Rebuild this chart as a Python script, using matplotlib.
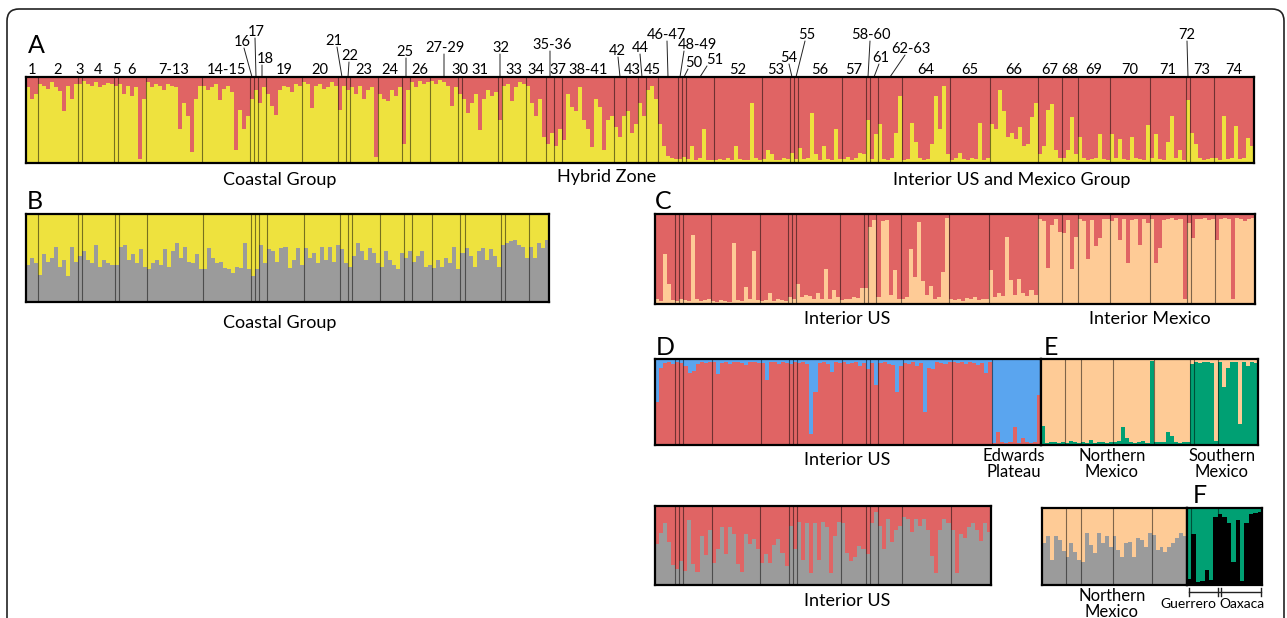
import numpy as np
import matplotlib
matplotlib.use('Agg')
import matplotlib.pyplot as plt
from matplotlib.patches import FancyBboxPatch
from matplotlib.lines import Line2D
from matplotlib.transforms import IdentityTransform

plt.rcParams['font.family'] = ['Lato', 'DejaVu Sans']

RED = '#e06464'
YELLOW = '#eee23e'
GREY = '#9b9b9b'
PEACH = '#fecb96'
BLUE = '#5aa5ef'
GREEN = '#00a073'
BLACK = '#000000'

# populations (in sampling order) and number of individuals in each
pops = ['1', '2', '3', '4', '5', '6', '7-13', '14-15', '16', '17', '18', '19', '20',
        '21', '22', '23', '24', '25', '26', '27-29', '30', '31', '32', '33', '34',
        '35-36', '37', '38-41', '42', '43', '44', '45', '46-47', '48-49', '50', '51',
        '52', '53', '54', '55', '56', '57', '58-60', '61', '62-63', '64', '65', '66',
        '67', '68', '69', '70', '71', '72', '73', '74']
sizes = [3, 10, 1, 8, 1, 7, 14, 12, 1, 1, 2, 9, 9,
         2, 1, 7, 6, 2, 5, 7, 1, 9, 1, 6, 5,
         2, 2, 13, 3, 3, 2, 3, 5, 1, 1, 7,
         12, 7, 1, 1, 11, 6, 1, 2, 6, 12, 10, 12,
         6, 4, 8, 10, 9, 1, 6, 10]

# A: all samples, % red cluster (rest yellow)
a_red = [12, 25, 20,
         8, 10, 14, 6, 12, 16, 40, 10, 26, 8,
         8,
         5, 8, 10, 6, 12, 9, 7, 8,
         10,
         8, 20, 10, 22, 12, 95, 25,
         6, 12, 8, 10, 15, 8, 10, 12, 60, 30, 45, 87, 25, 10,
         10, 15, 12, 8, 27, 14, 10, 18, 85, 38, 60, 45,
         25, 15, 30, 12,
         20, 34, 44, 15, 10, 12, 18, 8, 10,
         6, 8, 36, 10, 8, 14, 12, 6, 10,
         38, 10, 15,
         12, 20, 10, 25, 15, 12, 93,
         20, 25, 28, 15, 22, 12,
         78, 15,
         6, 12, 5, 8, 6,
         5, 8, 4, 6, 10, 34, 12,
         20,
         25, 42, 30, 20, 62, 25, 15, 22, 18,
         50,
         10, 8, 28, 12, 6, 8,
         10, 30, 45, 25, 70,
         78, 65, 80, 60,
         73, 20, 35, 40, 12, 50, 60, 81, 25, 35, 85, 50, 45,
         58, 70, 45,
         40, 65, 55,
         30, 45,
         15, 10, 25,
         55, 80, 92, 94, 95,
         95, 93,
         95, 80, 96, 94, 60, 96, 97,
         96, 95, 97, 94, 96, 80, 95, 96, 97, 30, 94, 96,
         95, 85, 90, 96, 97, 94, 95,
         88, 95,
         82, 95, 94, 42, 90, 96, 80, 95, 96, 60, 95,
         95, 93, 96, 94, 88, 90,
         50,
         95, 66,
         55, 95, 96, 94, 65, 22,
         96, 95, 54, 75, 94, 96, 95, 78, 22, 60, 10, 90,
         96, 94, 88, 95, 96, 94, 95, 53, 96, 94,
         55, 60, 15, 40, 70, 65, 72, 58, 80, 78, 46, 30,
         90, 80, 38, 31, 85, 94,
         94, 85, 46, 90,
         70, 94, 96, 95, 94, 66, 95, 96,
         66, 94, 72, 95, 96, 70, 94, 95, 96, 56,
         94, 66, 95, 96, 75, 45, 94, 85, 96,
         27,
         65, 78, 94, 96, 95, 94,
         94, 96, 45, 95, 94, 57, 95, 94, 71, 80]

# B: coastal group (pops 1-34), % grey cluster (rest yellow)
b_grey = [42, 50, 44,
          31, 55, 45, 50, 62, 40, 48, 30, 62, 45,
          52,
          58, 48, 44, 65, 40, 48, 44, 42,
          42,
          63, 65, 48, 54, 44, 60, 40,
          37, 44, 48, 42, 60, 40, 58, 67, 50, 63, 46, 44, 54, 37,
          37, 61, 50, 44, 46, 39, 37, 33, 40, 39, 67, 37,
          29, 37, 65, 44,
          60, 58, 46, 61, 63, 39, 48, 61, 42,
          61, 50, 56, 44, 63, 48, 63, 46, 65,
          60, 44, 40,
          52, 67, 58, 48, 61, 56, 44,
          40, 58, 48, 42, 37, 56,
          50, 58,
          46, 52, 58, 40, 42,
          39, 48, 40, 50, 44, 63, 37,
          56,
          61, 52, 40, 58, 61, 48, 60, 52, 40,
          65,
          67, 69, 71, 65, 63, 50,
          63, 50, 67, 61, 71]

# C: interior US and Mexico group (pops 46-74), % peach cluster (rest red)
c_peach = [5, 3, 56, 22, 4,
           3, 6,
           4, 3, 77, 5, 3, 4, 6,
           3, 2, 4, 3, 2, 68, 4, 3, 19, 5, 59, 4,
           3, 4, 12, 3, 5, 4, 3,
           8, 5,
           22, 8, 10, 9, 5, 12, 6, 39, 5, 16, 8,
           4, 6, 5, 8, 7, 18,
           18,
           86, 93,
           8, 92, 93, 10, 38, 6,
           5, 8, 61, 30, 91, 25, 10, 20, 6, 8, 36, 96,
           5, 4, 6, 3, 7, 5, 8, 4, 6, 5,
           38, 8, 12, 9, 74, 27, 10, 28, 12, 9, 15, 10,
           94, 92, 40, 88, 95, 80,
           79, 93, 39, 75,
           95, 92, 50, 93, 64, 73, 95, 94,
           92, 96, 71, 94, 46, 93, 95, 66, 94, 90,
           95, 46, 62, 93, 94, 96, 93, 95, 6,
           90,
           73, 95, 94, 96, 93, 95,
           71, 94, 96, 95, 5, 96, 94, 92, 95, 96]

# D: interior US + Edwards Plateau (pops 46-66), % blue cluster (rest red)
d_blue = [50, 10, 5, 4, 6,
          4, 5,
          8, 16, 14, 6, 4, 5, 4,
          4, 18, 5, 3, 6, 4, 3, 5, 7, 4, 3, 5,
          5, 24, 4, 3, 6, 4, 5,
          6, 4,
          5, 4, 6, 87, 38, 5, 4, 6, 15, 4, 5,
          4, 6, 5, 3, 8, 5,
          12,
          5, 30,
          5, 4, 6, 7, 38, 8,
          5, 6, 4, 8, 5, 62, 10, 12, 4, 5, 6, 3,
          4, 5, 3, 6, 4, 5, 7, 5, 16, 4,
          98, 85, 97, 98, 96, 79, 98, 92, 97, 98, 97, 42]

# E: Mexico (pops 67-74), % green cluster (rest peach)
e_green = [22, 2, 3, 4, 2, 3,
           2, 5, 3, 2,
           3, 2, 6, 2, 4, 3, 2, 3,
           3, 5, 21, 8, 4, 2, 3, 5, 2, 98,
           3, 4, 3, 15, 10, 3, 2, 4, 3,
           94,
           96, 95, 97, 96, 95, 5,
           96, 67, 90, 97, 96, 25, 97, 92, 96, 95]

# interior US alone (pops 46-65), % grey cluster (rest red)
us_grey = [52, 66, 79, 54, 25,
           20, 30,
           18, 82, 26, 17, 62, 38, 70,
           28, 45, 73, 39, 74, 64, 26, 16, 65, 52, 58, 45,
           28, 39, 28, 51, 58, 41, 24,
           75, 45,
           80, 32, 79, 15, 78, 32, 80, 74, 15, 62, 80,
           79, 41, 30, 36, 49, 45,
           39,
           79, 92,
           75, 45, 84, 54, 69, 75,
           86, 84, 67, 84, 75, 84, 70, 37, 15, 69, 84, 79,
           70, 15, 64, 60, 73, 79, 70, 56, 79, 67]

# northern Mexico alone (pops 67-71), % grey cluster (rest peach)
nm_grey = [54, 63, 32, 63, 58, 44,
           36, 54, 43, 32,
           30, 68, 52, 41, 68, 54, 63, 50,
           63, 45, 36, 54, 56, 36, 61, 59, 50, 68,
           65, 45, 50, 43, 50, 54, 61, 68, 63]

# F: southern Mexico (pops 72-74), % green cluster (rest black)
f_green = [92, 34, 96, 95, 80, 93, 12,
           8, 12, 20, 70, 15, 95, 20, 8, 6, 5]

W, H = 1287, 618
fig = plt.figure(figsize=(W / 100, H / 100), dpi=100)


def px_axes(x0, y0, x1, y1):
    return fig.add_axes([x0 / W, 1 - y1 / H, (x1 - x0) / W, (y1 - y0) / H])


def ftext(x, y, s, **kw):
    kw.setdefault('ha', 'center')
    kw.setdefault('va', 'center')
    fig.text(x / W, 1 - y / H, s, **kw)


def structure(rect, vals, part_sizes, upper, lower, top=True):
    ax = px_axes(*rect)
    v = np.array(vals) / 100.0
    n = len(v)
    assert n == sum(part_sizes), (n, sum(part_sizes))
    edges = np.arange(n + 1)
    if top:
        ax.set_facecolor(lower)
        ax.stairs(1 - v, edges, baseline=1, fill=True, color=upper, lw=0)
    else:
        ax.set_facecolor(upper)
        ax.stairs(v, edges, baseline=0, fill=True, color=lower, lw=0)
    ax.vlines(np.cumsum(part_sizes)[:-1], 0, 1, color='k', lw=0.8, alpha=0.5)
    ax.set_xlim(0, n)
    ax.set_ylim(0, 1)
    ax.set_xticks([])
    ax.set_yticks([])
    for s in ax.spines.values():
        s.set_linewidth(1.6)
        s.set_zorder(5)
    return ax


# panel A
ax_a = structure((26, 77, 1254, 163), a_red, sizes, RED, YELLOW, top=True)

# labels lifted above the row, with leader lines: text x, baseline y, line start x, y
raised = {'16': (242, 46, 244, 48), '17': (256, 36, 255, 38), '18': (265, 63, 262, 65),
          '21': (334, 45, 337, 47), '22': (350, 60, 349, 62), '25': (405, 56, 406, 58),
          '27-29': (445, 52, 444, 54), '32': (501, 52, 500, 54), '35-36': (552, 49, 550, 51),
          '42': (617, 55, 618, 57), '44': (640, 52, 640, 54), '46-47': (667, 39, 667, 41),
          '48-49': (697, 49, 684, 51), '50': (694, 67, 688, 69), '51': (715, 64, 707, 66),
          '54': (789, 62, 789, 64), '55': (807, 39, 805, 41), '58-60': (871, 39, 870, 41),
          '61': (881, 62, 879, 64), '62-63': (911, 53, 905, 55), '72': (1187, 39, 1187, 41)}

starts = np.concatenate([[0], np.cumsum(sizes)[:-1]])
for name, s0, sz in zip(pops, starts, sizes):
    c = s0 + sz / 2
    if name in raised:
        tx, ty, lx, ly = raised[name]
        ftext(tx, ty, name, va='baseline', fontsize=10.5)
        ax_a.annotate('', xy=(c, 1), xycoords=('data', 'axes fraction'),
                      xytext=(lx, H - ly), textcoords='figure pixels', annotation_clip=False,
                      arrowprops=dict(arrowstyle='-', lw=0.7, color='#222222',
                                      shrinkA=0, shrinkB=0))
    else:
        ax_a.annotate(name, xy=(c, 1), xycoords=('data', 'axes fraction'),
                      xytext=(0, 3), textcoords='offset pixels', annotation_clip=False,
                      ha='center', va='baseline', fontsize=10.5)

i46 = pops.index('46-47')
i66 = pops.index('66')
i67 = pops.index('67')
i72 = pops.index('72')

# panel B .. F
structure((26, 214, 549, 302), b_grey, sizes[:pops.index('35-36')], YELLOW, GREY, top=False)
structure((655, 214, 1255, 304), c_peach, sizes[i46:], RED, PEACH, top=False)
structure((655, 359, 1041, 445), d_blue, sizes[i46:i66 + 1], BLUE, RED, top=True)
structure((1041, 359, 1258, 445), e_green, sizes[i67:], PEACH, GREEN, top=False)
structure((655, 506, 991, 585), us_grey, sizes[i46:i66], RED, GREY, top=False)
structure((1042, 508, 1187, 585), nm_grey, sizes[i67:i72], PEACH, GREY, top=False)
structure((1187, 508, 1262, 585), f_green, sizes[i72:], GREEN, BLACK, top=True)

# panel letters
for letter, x, y in [('A', 28, 53), ('B', 27, 209), ('C', 655, 209), ('D', 656, 355),
                     ('E', 1044, 355), ('F', 1200, 503)]:
    ftext(x, y, letter, ha='left' if letter != 'F' else 'center', va='baseline', fontsize=18)

# captions
cap = dict(fontsize=13)
ftext(280, 180, 'Coastal Group', **cap)
ftext(607, 177, 'Hybrid Zone', **cap)
ftext(1012, 180, 'Interior US and Mexico Group', **cap)
ftext(280, 323, 'Coastal Group', **cap)
ftext(847, 319, 'Interior US', **cap)
ftext(1150, 319, 'Interior Mexico', **cap)
ftext(847, 460, 'Interior US', **cap)
two = dict(fontsize=12, linespacing=0.95)
ftext(1014, 464, 'Edwards\nPlateau', **two)
ftext(1112, 464, 'Northern\nMexico', **two)
ftext(1222, 464, 'Southern\nMexico', **two)
ftext(847, 601, 'Interior US', **cap)
ftext(1112, 604, 'Northern\nMexico', **two)
ftext(1188, 604, 'Guerrero', fontsize=10)
ftext(1242, 604, 'Oaxaca', fontsize=10)

# Guerrero / Oaxaca bracket
def fline(xs, ys, lw=1.0):
    fig.add_artist(Line2D([x / W for x in xs], [1 - y / H for y in ys],
                          transform=fig.transFigure, color='#222222', lw=lw))

fline([1189, 1261], [592, 592])
for bx in (1189, 1218, 1221, 1261):
    fline([bx, bx], [588, 596])

# outer rounded frame (runs off the bottom)
frame = FancyBboxPatch((7, -30), 1277, H - 9 + 30,
                       boxstyle='round,pad=0,rounding_size=12',
                       transform=IdentityTransform(), fill=False, lw=1.2, ec='#222222')
fig.add_artist(frame)

fig.savefig('out.png', dpi=100)
